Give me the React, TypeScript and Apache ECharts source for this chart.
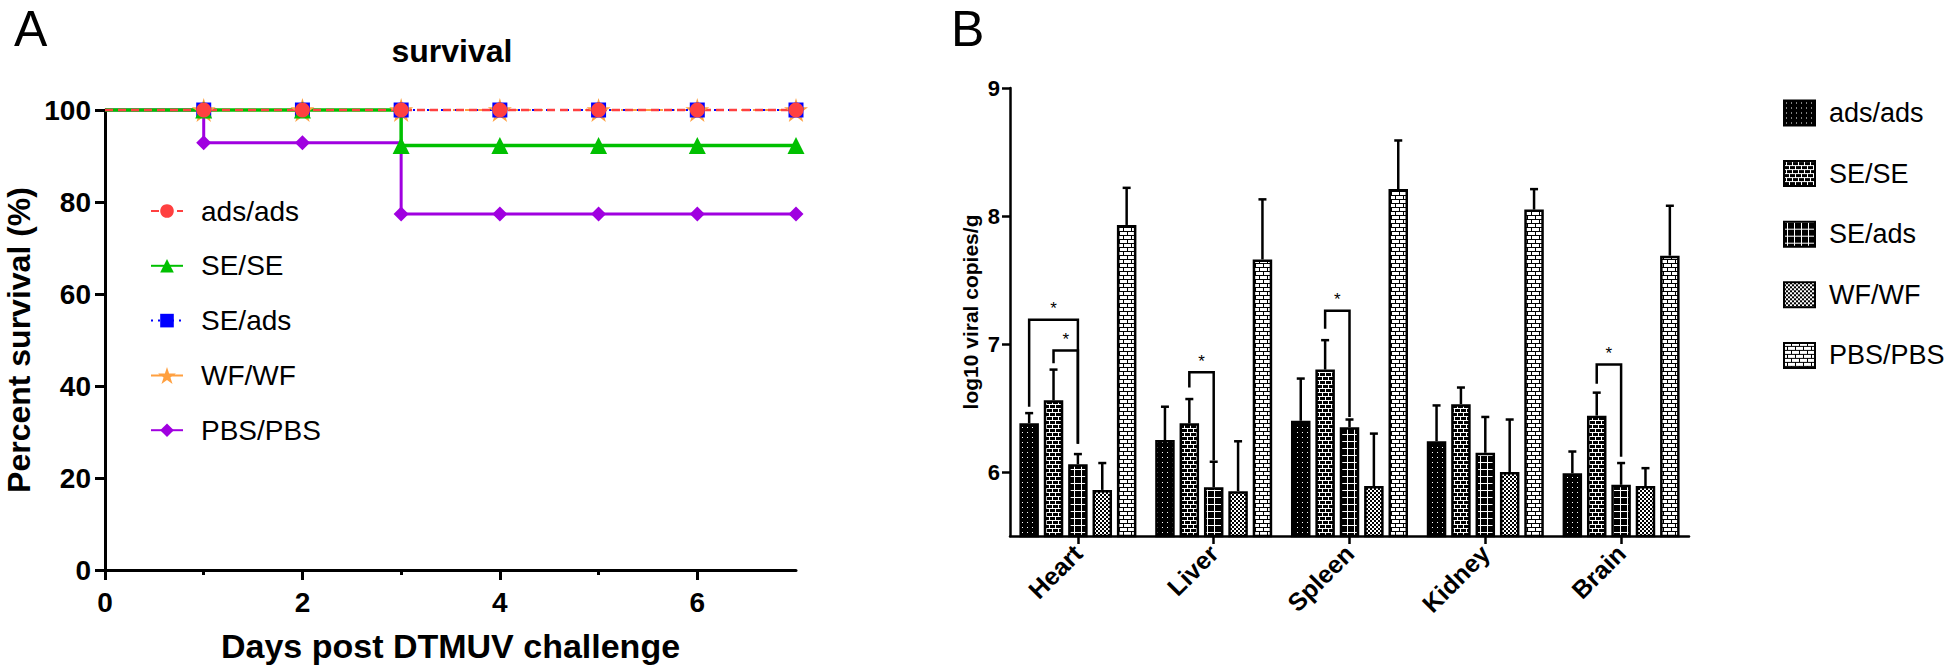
import React, { useEffect, useRef } from 'react';
import * as echarts from 'echarts';

// ---------- Panel A : survival ----------
const days = [0, 1, 2, 3, 4, 5, 6, 7];
const survAdsAds = [100, 100, 100, 100, 100, 100, 100, 100];
const survSESE = [100, 100, 100, 92.3, 92.3, 92.3, 92.3, 92.3];
const survSEAds = [100, 100, 100, 100, 100, 100, 100, 100];
const survWFWF = [100, 100, 100, 100, 100, 100, 100, 100];
const survPBSPBS = [100, 92.9, 92.9, 77.4, 77.4, 77.4, 77.4, 77.4];
const xLabelsA = [0, 2, 4, 6];
const xMinorA = [1, 3, 5];

// ---------- Panel B : viral load ----------
const organs = ['Heart', 'Liver', 'Spleen', 'Kidney', 'Brain'];
const groups = ['ads/ads', 'SE/SE', 'SE/ads', 'WF/WF', 'PBS/PBS'];
const meanAdsAds = [6.38, 6.25, 6.40, 6.24, 5.99];
const topAdsAds = [6.46, 6.51, 6.73, 6.52, 6.16];
const meanSESE = [6.56, 6.38, 6.80, 6.53, 6.44];
const topSESE = [6.80, 6.57, 7.03, 6.66, 6.62];
const meanSEAds = [6.06, 5.88, 6.35, 6.15, 5.90];
const topSEAds = [6.14, 6.08, 6.41, 6.43, 6.07];
const meanWFWF = [5.86, 5.85, 5.89, 6.00, 5.89];
const topWFWF = [6.07, 6.24, 6.30, 6.41, 6.03];
const meanPBSPBS = [7.93, 7.66, 8.21, 8.05, 7.69];
const topPBSPBS = [8.22, 8.13, 8.59, 8.21, 8.08];
const yTicksB = [6, 7, 8, 9];
// [organ index, left group, right group, bracket top, left foot, right foot]
const brackets = [
  [0, 0, 2, 7.19, 6.51, 6.22],
  [0, 1, 2, 6.95, 6.85, 6.22],
  [1, 1, 2, 6.78, 6.66, 6.09],
  [2, 1, 2, 7.26, 7.12, 6.43],
  [4, 1, 2, 6.84, 6.69, 6.12],
];

const FONT = 'Arial, "Liberation Sans", Helvetica, sans-serif';
const BAR_W = 19.5;
const BAR_STEP = 24.375;

function makePattern(kind: string) {
  const c = document.createElement('canvas');
  let w = 8;
  let h = 8;
  if (kind === 'dots') { w = 5; h = 5; }
  if (kind === 'brickDark') { w = 6; h = 8; }
  if (kind === 'grid') { w = 7; h = 7; }
  if (kind === 'checker') { w = 4; h = 4; }
  c.width = w;
  c.height = h;
  const g = c.getContext('2d')!;
  g.fillStyle = '#000';
  g.fillRect(0, 0, w, h);
  g.fillStyle = '#fff';
  if (kind === 'dots') {
    g.fillRect(2, 2, 1, 1);
  } else if (kind === 'brickDark') {
    g.fillRect(0, 0, 6, 1);
    g.fillRect(0, 4, 6, 1);
    g.fillRect(2, 1, 1, 3);
    g.fillRect(5, 5, 1, 3);
  } else if (kind === 'grid') {
    g.fillRect(0, 0, 7, 1);
    g.fillRect(3, 0, 1, 7);
  } else if (kind === 'checker') {
    g.fillRect(0, 0, 2, 2);
    g.fillRect(2, 2, 2, 2);
  } else if (kind === 'brickLight') {
    g.fillRect(0, 0, 7, 3);
    g.fillRect(0, 4, 3, 3);
    g.fillRect(4, 4, 4, 3);
  }
  return { image: c, repeat: 'repeat', imageWidth: w, imageHeight: h } as any;
}

const STAR = 'path://M50,0 L61,35 L98,35 L68,57 L79,91 L50,70 L21,91 L32,57 L2,35 L39,35 Z';
const STAR_LEGEND =
  'path://M16,0 L18.12,6.49 L24.94,6.49 L19.42,10.51 L21.53,17 L16,13 L10.47,17 L12.58,10.51 L7.06,6.49 L13.88,6.49 Z M0,7.6 L32,7.6 L32,9.6 L0,9.6 Z';

function buildOption() {
  const toPts = (arr: number[]) =>
    days.map((d, i) => (i === 0 ? { value: [d, arr[i]], symbol: 'none' } : [d, arr[i]]));

  const lineDefs = [
    { name: 'PBS/PBS', data: survPBSPBS, color: '#a000e0', symbol: 'diamond', size: 15, width: 3, type: 'solid' as any },
    { name: 'WF/WF', data: survWFWF, color: '#ffa040', symbol: STAR, size: 24, width: 2, type: [6, 6] },
    { name: 'SE/ads', data: survSEAds, color: '#0000ff', symbol: 'rect', size: 15, width: 2, type: [2, 5] },
    { name: 'SE/SE', data: survSESE, color: '#00c000', symbol: 'triangle', size: 17, width: 3.5, type: 'solid' },
    { name: 'ads/ads', data: survAdsAds, color: '#ff4040', symbol: 'circle', size: 15, width: 2.5, type: [8, 5] },
  ];

  const lineSeries = lineDefs.map((d) => ({
    type: 'line',
    name: d.name,
    xAxisIndex: 0,
    yAxisIndex: 0,
    step: 'end',
    data: toPts(d.data),
    symbol: d.symbol,
    symbolSize: d.size,
    showSymbol: true,
    clip: false,
    silent: true,
    color: d.color,
    itemStyle: { color: d.color },
    lineStyle: { color: d.color, width: d.width, type: d.type },
    emphasis: { disabled: true },
  }));

  const means = [meanAdsAds, meanSESE, meanSEAds, meanWFWF, meanPBSPBS];
  const tops = [topAdsAds, topSESE, topSEAds, topWFWF, topPBSPBS];
  const patterns = ['dots', 'brickDark', 'grid', 'checker', 'brickLight'];

  const barSeries = groups.map((g, gi) => ({
    type: 'bar',
    name: 'B:' + g,
    xAxisIndex: 2,
    yAxisIndex: 1,
    data: means[gi],
    barWidth: BAR_W,
    barGap: '25%',
    silent: true,
    itemStyle: { color: makePattern(patterns[gi]), borderColor: '#000', borderWidth: 2.5 },
    emphasis: { disabled: true },
  }));

  const errData: number[][] = [];
  groups.forEach((_, gi) => {
    organs.forEach((__, oi) => errData.push([oi, gi, means[gi][oi], tops[gi][oi]]));
  });

  const errSeries = {
    type: 'custom',
    xAxisIndex: 2,
    yAxisIndex: 1,
    silent: true,
    encode: { x: 0, y: 2 },
    data: errData,
    z: 5,
    renderItem: (params: any, api: any) => {
      const cat = api.value(0);
      const g = api.value(1);
      const base = api.coord([cat, api.value(2)]);
      const tp = api.coord([cat, api.value(3)]);
      const x = base[0] + (g - 2) * BAR_STEP;
      const st = { stroke: '#000', lineWidth: 2.5 };
      return {
        type: 'group',
        children: [
          { type: 'line', shape: { x1: x, y1: base[1], x2: x, y2: tp[1] }, style: st },
          { type: 'line', shape: { x1: x - 4, y1: tp[1], x2: x + 4, y2: tp[1] }, style: st },
        ],
      };
    },
  };

  const bracketSeries = {
    type: 'custom',
    xAxisIndex: 2,
    yAxisIndex: 1,
    silent: true,
    encode: { x: 0, y: 3 },
    data: brackets,
    z: 6,
    renderItem: (params: any, api: any) => {
      const cat = api.value(0);
      const c = api.coord([cat, api.value(3)]);
      const xl = c[0] + (api.value(1) - 2) * BAR_STEP;
      const xr = c[0] + (api.value(2) - 2) * BAR_STEP;
      const yTop = c[1];
      const yl = api.coord([cat, api.value(4)])[1];
      const yr = api.coord([cat, api.value(5)])[1];
      return {
        type: 'group',
        children: [
          {
            type: 'polyline',
            shape: { points: [[xl, yl], [xl, yTop], [xr, yTop], [xr, yr]] },
            style: { stroke: '#000', lineWidth: 2.5, fill: 'none' },
          },
          {
            type: 'text',
            x: (xl + xr) / 2,
            y: yTop - 11,
            style: { text: '*', font: `17px ${FONT}`, fill: '#000', align: 'center', verticalAlign: 'middle' },
          },
        ],
      };
    },
  };

  return {
    animation: false,
    backgroundColor: '#fff',
    graphic: [
      { type: 'text', x: 14, y: 29, style: { text: 'A', font: `50px ${FONT}`, fill: '#000', align: 'left', verticalAlign: 'middle' } },
      { type: 'text', x: 951, y: 29, style: { text: 'B', font: `50px ${FONT}`, fill: '#000', align: 'left', verticalAlign: 'middle' } },
      { type: 'text', x: 452, y: 51, style: { text: 'survival', font: `bold 32px ${FONT}`, fill: '#000', align: 'center', verticalAlign: 'middle' } },
    ],
    grid: [
      { left: 105, top: 110, width: 691, height: 460, outerBoundsMode: 'none', containLabel: false },
      { left: 1010, top: 88, width: 679, height: 448, outerBoundsMode: 'none', containLabel: false },
    ],
    legend: [
      {
        data: groups.map((g) => (g === 'WF/WF' ? { name: g, icon: STAR_LEGEND } : g)),
        orient: 'vertical',
        left: 145,
        top: 191,
        itemWidth: 32,
        itemHeight: 17,
        itemGap: 24.8,
        selectedMode: false,
        textStyle: { fontSize: 28, fontFamily: FONT, color: '#000', lineHeight: 30, padding: [0, 0, 0, 13] },
      },
      {
        data: groups.map((g) => 'B:' + g),
        formatter: (n: string) => n.replace(/^B:/, ''),
        orient: 'vertical',
        left: 1778,
        top: 93,
        icon: 'rect',
        itemWidth: 31,
        itemHeight: 25,
        itemGap: 30.6,
        selectedMode: false,
        textStyle: { fontSize: 27, fontFamily: FONT, color: '#000', lineHeight: 30, padding: [0, 0, 0, 9] },
      },
    ],
    xAxis: [
      {
        type: 'value',
        gridIndex: 0,
        min: 0,
        max: 7,
        position: 'bottom',
        name: 'Days post DTMUV challenge',
        nameLocation: 'middle',
        nameGap: 59,
        nameTextStyle: { fontSize: 34, fontWeight: 'bold', fontFamily: FONT, color: '#000' },
        axisLine: { show: true, lineStyle: { color: '#000', width: 3 } },
        axisTick: { show: true, customValues: xLabelsA, length: 10, lineStyle: { color: '#000', width: 3 } },
        axisLabel: { customValues: xLabelsA, fontSize: 28, fontWeight: 'bold', fontFamily: FONT, color: '#000', margin: 18 },
        splitLine: { show: false },
      },
      {
        type: 'value',
        gridIndex: 0,
        min: 0,
        max: 7,
        position: 'bottom',
        offset: 0,
        axisLine: { show: false },
        axisTick: { show: true, customValues: xMinorA, length: 5, lineStyle: { color: '#000', width: 3 } },
        axisLabel: { show: false },
        splitLine: { show: false },
      },
      {
        type: 'category',
        gridIndex: 1,
        data: organs,
        position: 'bottom',
        axisLine: { show: true, lineStyle: { color: '#000', width: 2.5 } },
        axisTick: { show: true, alignWithLabel: true, length: 8, lineStyle: { color: '#000', width: 2.5 } },
        axisLabel: { rotate: 45, fontSize: 25, fontWeight: 'bold', fontFamily: FONT, color: '#000', margin: 13 },
        splitLine: { show: false },
      },
    ],
    yAxis: [
      {
        type: 'value',
        gridIndex: 0,
        min: 0,
        max: 100,
        interval: 20,
        name: 'Percent survival (%)',
        nameLocation: 'middle',
        nameGap: 70,
        nameTextStyle: { fontSize: 32, fontWeight: 'bold', fontFamily: FONT, color: '#000' },
        axisLine: { show: true, lineStyle: { color: '#000', width: 3 } },
        axisTick: { show: true, length: 10, lineStyle: { color: '#000', width: 3 } },
        axisLabel: { fontSize: 28, fontWeight: 'bold', fontFamily: FONT, color: '#000', margin: 14 },
        splitLine: { show: false },
      },
      {
        type: 'value',
        gridIndex: 1,
        min: 5.5,
        max: 9,
        interval: 0.5,
        name: 'log10 viral copies/g',
        nameLocation: 'middle',
        nameGap: 29,
        nameTextStyle: { fontSize: 21, fontWeight: 'bold', fontFamily: FONT, color: '#000' },
        axisLine: { show: true, lineStyle: { color: '#000', width: 2.5 } },
        axisTick: { show: true, customValues: yTicksB, length: 8, lineStyle: { color: '#000', width: 2.5 } },
        axisLabel: { customValues: yTicksB, fontSize: 22, fontWeight: 'bold', fontFamily: FONT, color: '#000', margin: 10 },
        splitLine: { show: false },
      },
    ],
    series: [...lineSeries, ...barSeries, errSeries, bracketSeries],
  };
}

export default function App() {
  const ref = useRef<HTMLDivElement>(null);
  useEffect(() => {
    document.body.style.margin = '0';
    const chart = echarts.init(ref.current!, null, { renderer: 'svg' });
    chart.setOption(buildOption() as any);
    return () => chart.dispose();
  }, []);
  return <div ref={ref} style={{ width: 1946, height: 667, background: '#fff' }} />;
}
